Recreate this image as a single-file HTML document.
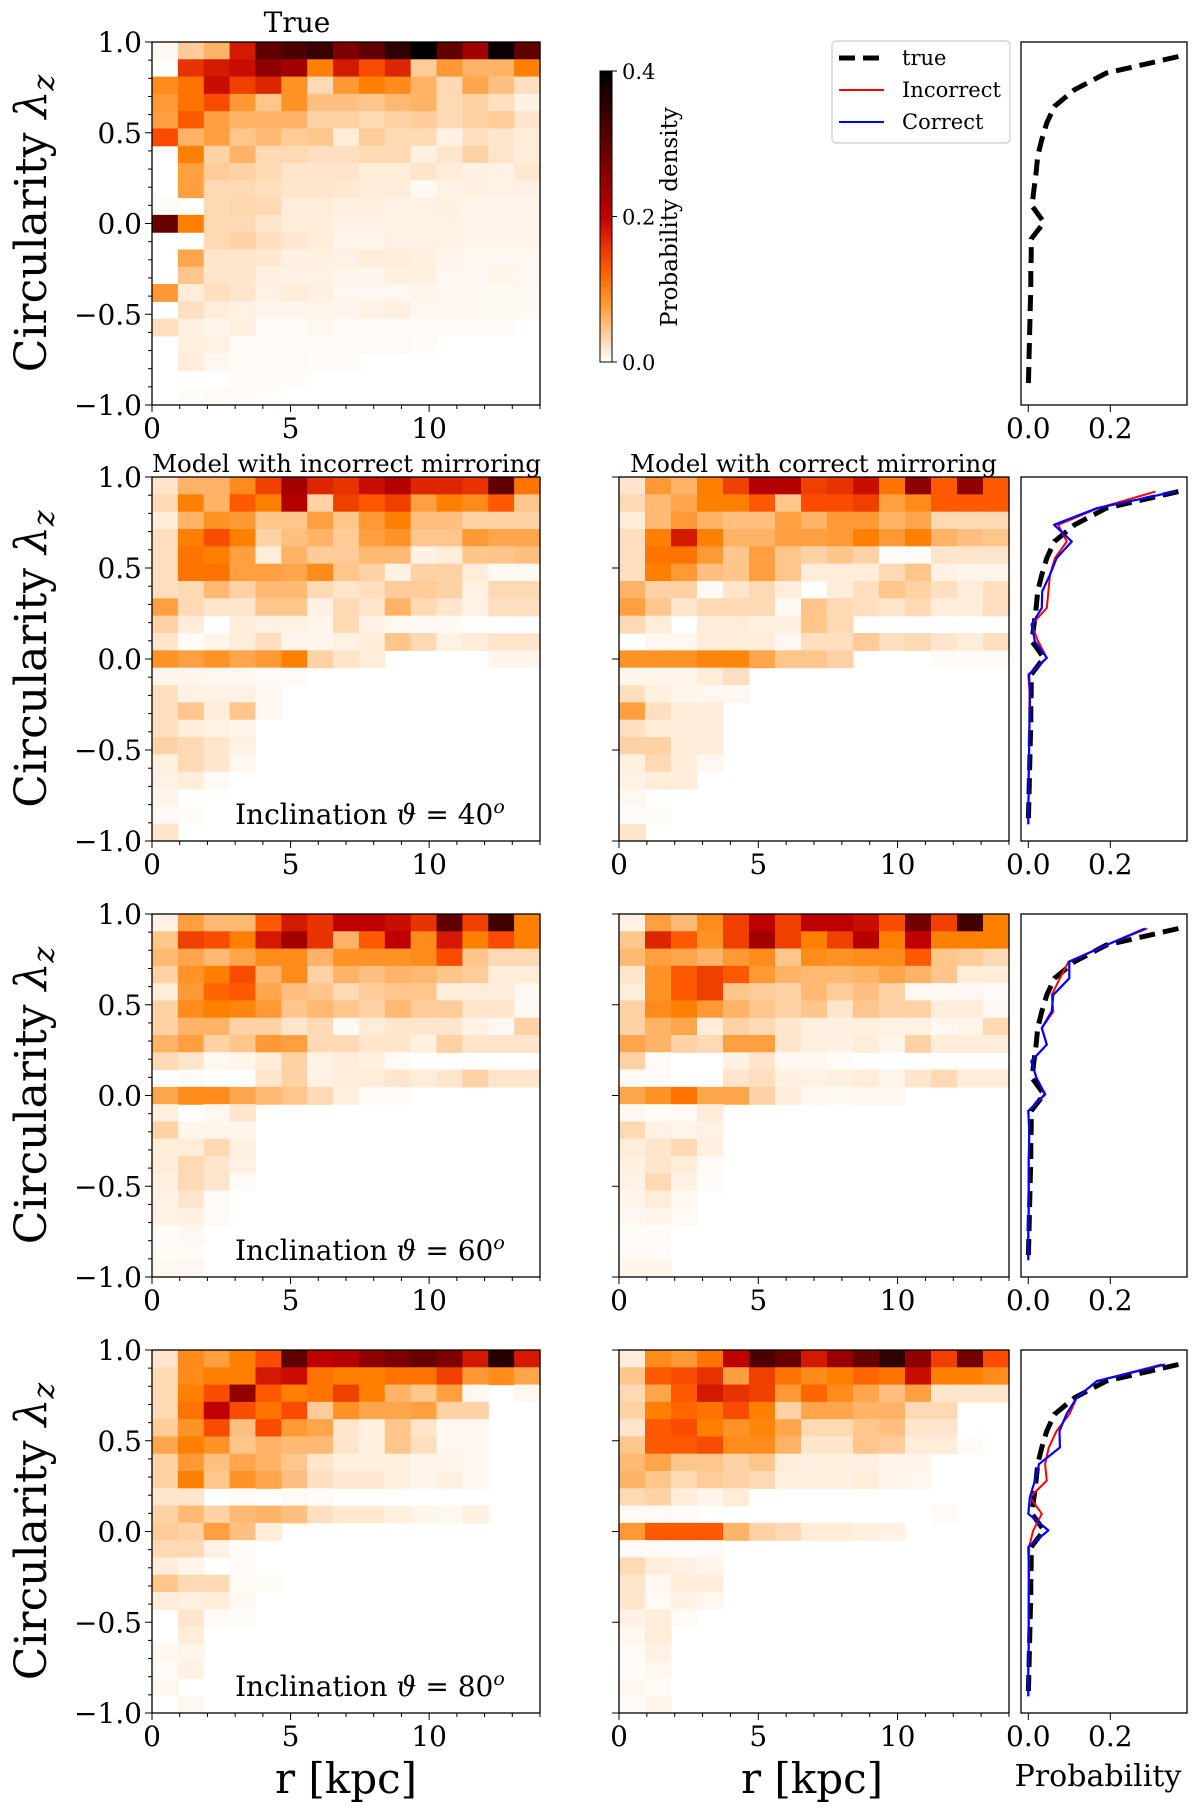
<!DOCTYPE html>
<html><head><meta charset="utf-8">
<style>
html,body{margin:0;padding:0;background:#fff;}
svg{display:block;font-family:"DejaVu Serif","Liberation Serif",serif;}
</style></head>
<body>
<svg id="fig" width="1200" height="1812" viewBox="0 0 1200 1812" xmlns="http://www.w3.org/2000/svg">
<defs>
<linearGradient id="cbgrad" x1="0" y1="1" x2="0" y2="0"></linearGradient>
</defs>
</svg>
<script>
// Heatmap values in units of 0.001 probability density; 21 rows (lambda from +1 down to -1) x 15 radial bins (0..14 kpc)
const xTicks = [0, 5, 10];
const yTicks = [1.0, 0.5, 0.0, -0.5, -1.0];
const yTickLabels = ["1.0", "0.5", "0.0", "\u22120.5", "\u22121.0"];
const cbTicks = [0.0, 0.2, 0.4];
const cbTickLabels = ["0.0", "0.2", "0.4"];
const probTicks = [0.0, 0.2];
const probTickLabels = ["0.0", "0.2"];

const trueGrid = [
[5,40,60,180,300,320,340,270,300,350,400,300,230,390,300],
[0,160,180,190,250,230,100,180,140,170,40,80,60,60,100],
[90,110,190,150,170,85,30,80,100,90,60,30,70,50,25],
[80,110,140,80,45,85,50,50,45,55,60,30,35,25,10],
[75,130,75,60,60,60,35,35,30,35,40,30,35,40,20],
[140,60,75,45,55,40,45,15,40,30,30,10,25,20,15],
[0,100,35,60,30,30,25,25,30,30,12,20,35,20,15],
[0,75,40,35,30,20,20,20,15,15,20,15,10,10,18],
[0,75,30,30,25,20,20,18,15,15,5,10,12,10,10],
[3,0,30,32,30,15,15,12,12,10,10,12,8,8,8],
[290,100,30,30,20,15,15,10,10,10,10,10,8,8,8],
[0,0,30,35,25,18,15,8,8,10,10,10,8,8,8],
[0,70,20,20,18,12,12,10,15,15,12,8,6,6,6],
[0,45,20,20,12,10,10,8,8,12,12,6,6,8,6],
[80,15,25,20,10,15,12,6,6,6,8,6,6,5,5],
[0,25,15,10,8,8,8,8,10,12,6,6,6,5,5],
[25,12,8,12,4,4,6,4,4,4,4,4,4,4,0],
[0,12,10,4,4,4,4,4,4,4,3,0,0,0,0],
[0,15,6,4,4,4,3,3,0,0,0,0,0,0,0],
[0,0,0,3,3,3,0,0,0,0,0,0,0,0,0],
[0,3,4,3,2,0,0,0,0,0,0,0,0,0,0]];

const inc40Grid = [
[20,60,60,90,150,230,170,160,190,210,170,170,160,300,110],
[30,100,60,130,100,210,35,150,130,150,75,100,90,130,45],
[15,60,85,80,45,45,75,45,80,100,50,50,35,35,35],
[25,100,140,100,35,50,60,40,75,85,45,45,80,70,70],
[25,110,100,75,15,60,40,40,55,55,10,15,45,45,50],
[25,110,110,75,75,70,90,45,35,10,35,35,15,5,5],
[25,30,55,35,55,55,30,20,25,40,40,35,10,30,30],
[75,30,20,20,45,45,10,30,20,60,30,20,10,25,25],
[35,15,0,15,10,10,8,30,10,5,5,5,0,0,0],
[20,3,8,15,25,8,8,10,15,45,30,10,15,20,20],
[85,75,85,70,80,100,35,20,15,0,0,0,0,8,8],
[8,8,6,6,4,4,0,0,0,0,0,0,0,0,0],
[25,10,10,10,6,0,0,0,0,0,0,0,0,0,0],
[25,45,15,45,6,0,0,0,0,0,0,0,0,0,0],
[25,15,10,8,0,0,0,0,0,0,0,0,0,0,0],
[35,30,20,10,0,0,0,0,0,0,0,0,0,0,0],
[12,30,20,6,0,0,0,0,0,0,0,0,0,0,0],
[10,15,4,0,0,0,0,0,0,0,0,0,0,0,0],
[8,0,0,0,0,0,0,0,0,0,0,0,0,0,0],
[4,3,0,0,0,0,0,0,0,0,0,0,0,0,0],
[20,0,0,0,0,0,0,0,0,0,0,0,0,0,0]];

const cor40Grid = [
[20,80,60,100,150,210,210,150,160,190,110,250,130,250,130],
[30,55,70,100,100,130,45,140,140,150,75,90,130,130,130],
[15,55,80,60,50,50,75,60,80,80,60,70,30,30,30],
[25,100,180,100,60,60,75,75,80,100,80,100,60,50,45],
[25,110,110,80,45,75,45,35,45,35,3,3,20,20,20],
[25,100,80,50,45,75,45,15,15,15,30,45,10,8,8],
[60,35,35,5,20,30,15,0,15,25,45,35,25,15,25],
[75,45,20,30,30,30,5,45,30,25,20,30,15,15,25],
[30,15,0,15,15,12,12,45,30,0,0,0,0,0,0],
[0,6,6,15,15,15,6,25,25,40,25,30,20,15,25],
[85,85,85,95,95,70,45,45,35,0,0,0,4,4,4],
[8,8,8,15,25,0,0,0,0,0,0,0,0,0,0],
[25,12,8,6,6,0,0,0,0,0,0,0,0,0,0],
[75,25,15,15,0,0,0,0,0,0,0,0,0,0,0],
[25,15,15,15,0,0,0,0,0,0,0,0,0,0,0],
[35,35,15,15,0,0,0,0,0,0,0,0,0,0,0],
[12,30,15,6,0,0,0,0,0,0,0,0,0,0,0],
[10,15,15,0,0,0,0,0,0,0,0,0,0,0,0],
[6,0,0,0,0,0,0,0,0,0,0,0,0,0,0],
[3,3,0,0,0,0,0,0,0,0,0,0,0,0,0],
[20,0,0,0,0,0,0,0,0,0,0,0,0,0,0]];

const inc60Grid = [
[10,75,55,55,130,180,160,200,200,190,160,300,150,330,100],
[45,150,140,100,180,230,160,60,130,200,90,180,100,140,100],
[55,70,55,70,90,90,60,85,85,85,90,140,45,30,30],
[35,85,100,140,60,90,35,60,50,60,55,45,40,15,15],
[15,80,120,130,70,50,45,30,40,45,45,15,15,15,5],
[35,90,100,95,80,45,55,45,35,55,40,40,20,20,5],
[35,60,60,35,35,20,30,5,15,20,20,20,10,5,35],
[60,75,35,45,80,75,30,30,20,20,12,35,20,20,20],
[30,20,5,8,15,35,10,15,12,4,0,0,0,0,0],
[0,4,0,0,20,35,10,15,15,20,15,20,35,20,20],
[70,90,90,70,55,45,30,12,4,4,0,0,0,0,0],
[12,0,6,20,0,0,0,0,0,0,0,0,0,0,0],
[35,8,8,8,0,0,0,0,0,0,0,0,0,0,0],
[15,15,30,12,0,0,0,0,0,0,0,0,0,0,0],
[15,30,20,10,0,0,0,0,0,0,0,0,0,0,0],
[12,30,20,4,0,0,0,0,0,0,0,0,0,0,0],
[10,20,4,0,0,0,0,0,0,0,0,0,0,0,0],
[10,10,4,0,0,0,0,0,0,0,0,0,0,0,0],
[3,6,0,0,0,0,0,0,0,0,0,0,0,0,0],
[3,4,0,0,0,0,0,0,0,0,0,0,0,0,0],
[6,6,0,0,0,0,0,0,0,0,0,0,0,0,0]];

const cor60Grid = [
[10,75,55,90,150,200,150,200,200,190,140,280,150,330,100],
[45,170,130,85,150,230,150,100,150,210,100,200,100,100,100],
[55,75,70,60,80,90,45,90,85,90,90,130,45,40,30],
[20,85,130,150,130,80,60,55,55,60,70,60,45,15,15],
[15,85,130,150,45,40,35,55,40,50,35,6,6,6,4],
[35,90,100,80,60,45,35,45,20,45,35,35,15,15,5],
[35,60,70,15,35,30,20,12,12,12,10,10,6,8,30],
[70,60,35,30,75,75,20,12,10,15,8,35,15,15,15],
[35,4,0,0,10,20,6,6,4,0,0,0,0,0,0],
[4,4,0,0,20,25,12,10,12,15,8,20,30,15,15],
[70,85,110,70,70,35,15,6,5,6,6,0,0,0,0],
[6,4,4,15,0,0,0,0,0,0,0,0,0,0,0],
[30,10,8,10,0,0,0,0,0,0,0,0,0,0,0],
[15,20,30,12,0,0,0,0,0,0,0,0,0,0,0],
[12,20,15,4,0,0,0,0,0,0,0,0,0,0,0],
[10,30,10,3,0,0,0,0,0,0,0,0,0,0,0],
[8,15,6,0,0,0,0,0,0,0,0,0,0,0,0],
[6,8,4,0,0,0,0,0,0,0,0,0,0,0,0],
[3,4,0,0,0,0,0,0,0,0,0,0,0,0,0],
[4,4,0,0,0,0,0,0,0,0,0,0,0,0,0],
[8,8,0,0,0,0,0,0,0,0,0,0,0,0,0]];

const inc80Grid = [
[20,90,75,100,140,300,200,210,250,270,290,270,180,360,180],
[30,90,100,100,180,190,110,100,100,110,110,150,80,90,70],
[30,100,140,250,130,100,110,150,100,60,45,75,6,0,6],
[30,110,200,140,110,140,40,85,70,70,75,35,35,0,0],
[40,85,140,50,140,80,70,20,12,45,20,6,6,0,0],
[70,100,85,45,60,55,55,20,12,45,25,6,6,0,0],
[35,80,50,70,60,45,20,12,12,12,8,8,6,0,0],
[35,100,45,85,70,50,25,18,18,12,8,12,6,0,0],
[20,20,0,4,0,4,3,0,0,0,0,0,0,0,0],
[35,55,35,55,60,50,25,18,18,12,8,6,12,0,0],
[40,35,75,50,15,0,0,0,0,0,0,0,0,0,0],
[30,30,10,3,0,0,0,0,0,0,0,0,0,0,0],
[15,8,0,4,0,0,0,0,0,0,0,0,0,0,0],
[45,30,30,4,3,0,0,0,0,0,0,0,0,0,0],
[15,12,15,6,0,0,0,0,0,0,0,0,0,0,0],
[0,20,4,3,0,0,0,0,0,0,0,0,0,0,0],
[0,15,0,0,0,0,0,0,0,0,0,0,0,0,0],
[6,8,0,0,0,0,0,0,0,0,0,0,0,0,0],
[4,10,0,0,0,0,0,0,0,0,0,0,0,0,0],
[6,0,0,0,0,0,0,0,0,0,0,0,0,0,0],
[0,6,0,0,0,0,0,0,0,0,0,0,0,0,0]];

const cor80Grid = [
[15,90,80,110,200,320,290,180,240,290,350,250,150,280,140],
[45,130,140,160,75,150,110,90,100,120,110,190,100,100,90],
[30,70,130,180,160,150,80,120,90,70,50,75,20,20,20],
[35,100,120,110,140,100,35,70,70,60,60,30,30,0,0],
[20,130,140,100,85,95,70,30,30,45,50,20,20,0,0],
[45,130,130,140,90,90,60,20,20,45,40,15,15,4,0],
[55,70,45,45,35,45,15,12,12,12,8,8,0,0,0],
[60,45,30,40,35,30,12,12,12,15,8,6,0,0,0],
[30,35,15,8,15,0,0,0,0,0,0,0,0,0,0],
[4,4,4,0,0,0,0,0,0,0,0,0,4,0,0],
[80,130,130,130,60,35,30,15,15,12,10,0,0,0,0],
[4,4,4,4,0,0,0,0,0,0,0,0,0,0,0],
[30,15,10,8,0,0,0,0,0,0,0,0,0,0,0],
[20,6,15,15,0,0,0,0,0,0,0,0,0,0,0],
[20,4,10,6,0,0,0,0,0,0,0,0,0,0,0],
[10,15,4,0,0,0,0,0,0,0,0,0,0,0,0],
[6,15,0,0,0,0,0,0,0,0,0,0,0,0,0],
[4,10,0,0,0,0,0,0,0,0,0,0,0,0,0],
[3,6,0,0,0,0,0,0,0,0,0,0,0,0,0],
[6,4,0,0,0,0,0,0,0,0,0,0,0,0,0],
[4,8,0,0,0,0,0,0,0,0,0,0,0,0,0]];

// Marginal probability profiles (21 lambda bins, top to bottom)
const trueProfile = [0.366,0.19,0.113,0.064,0.045,0.033,0.023,0.019,0.014,0.009,0.038,0.007,0.007,0.006,0.006,0.005,0.004,0.003,0.002,0.001,0.0];
const inc40Profile = [0.31,0.17,0.073,0.094,0.065,0.053,0.049,0.045,0.008,0.024,0.045,0.0,0.003,0.003,0.003,0.002,0.002,0.001,0.001,0.0,0.0];
const cor40Profile = [0.358,0.167,0.063,0.106,0.069,0.053,0.034,0.033,0.008,0.016,0.045,0.002,0.004,0.004,0.003,0.002,0.002,0.001,0.001,0.0,0.0];
const inc60Profile = [0.29,0.19,0.098,0.077,0.057,0.061,0.033,0.045,0.007,0.02,0.042,0.0,0.002,0.002,0.001,0.001,0.001,0.001,0.0,0.0,0.0];
const cor60Profile = [0.285,0.19,0.1,0.1,0.061,0.057,0.033,0.045,0.007,0.02,0.04,0.0,0.002,0.002,0.001,0.001,0.001,0.001,0.0,0.0,0.0];
const inc80Profile = [0.325,0.167,0.118,0.1,0.069,0.05,0.041,0.045,0.004,0.033,0.012,0.002,0.002,0.002,0.001,0.001,0.001,0.001,0.0,0.0,0.0];
const cor80Profile = [0.333,0.167,0.118,0.093,0.076,0.077,0.026,0.016,0.004,0.0,0.049,0.0,0.001,0.001,0.001,0.001,0.001,0.001,0.0,0.0,0.0];

const NS = "http://www.w3.org/2000/svg";
const svg = document.getElementById('fig');
function mk(tag, attrs, parent) {
  const e = document.createElementNS(NS, tag);
  for (const k in attrs) e.setAttribute(k, attrs[k]);
  (parent || svg).appendChild(e);
  return e;
}
function txt(s, attrs, parent) { const t = mk('text', attrs, parent); t.textContent = s; return t; }

function heat(v) { // gist_heat_r, vmax 0.4
  let x = 1 - Math.min(Math.max(v / 0.4, 0), 1);
  const r = Math.min(1, 1.5 * x), g = Math.max(0, 2 * x - 1), b = Math.max(0, 4 * x - 3);
  return 'rgb(' + Math.round(r * 255) + ',' + Math.round(g * 255) + ',' + Math.round(b * 255) + ')';
}

const colL = [152, 540], colM = [619, 1009], colR = [1021, 1187];
const rows = [[42, 405], [477, 841], [914, 1277], [1350, 1713]];
const NX = 15, NY = 21, XMAX = 14;

function heatPanel(name, grid, cx, ry, opts) {
  const g = mk('g', {});
  
  
  const xs = v => cx[0] + (v / XMAX) * (cx[1] - cx[0]);
  const ys = v => ry[0] + (1 - v) / 2 * (ry[1] - ry[0]);
  const dx = XMAX / NX, dy = 2 / NY;
  for (let i = 0; i < NY; i++) for (let j = 0; j < NX; j++) {
    const v = grid[i][j] / 1000;
    if (v <= 0) continue;
    const x0 = xs(j * dx), x1 = xs((j + 1) * dx);
    const y0 = ys(1 - i * dy), y1 = ys(1 - (i + 1) * dy);
    const c = mk('rect', {x: x0.toFixed(2), y: y0.toFixed(2), width: (x1 - x0 + 0.6).toFixed(2), height: (y1 - y0 + 0.6).toFixed(2), fill: heat(v)}, g);
    
    
  }
  const fr = mk('rect', {x: cx[0], y: ry[0], width: cx[1] - cx[0], height: ry[1] - ry[0], fill: 'none', stroke: '#000', 'stroke-width': 1.3}, g);
  
  
  // x ticks
  for (let m = 0; m <= XMAX; m++) {
    const x = xs(m);
    const major = xTicks.indexOf(m) >= 0;
    mk('line', {x1: x, x2: x, y1: ry[1], y2: ry[1] + (major ? 7 : 4), stroke: '#000', 'stroke-width': 1}, g);
  }
  for (let k = 0; k < xTicks.length; k++) {
    const t = txt(String(xTicks[k]), {x: xs(xTicks[k]), y: ry[1] + 33, 'font-size': 28, 'text-anchor': 'middle'}, g);
    
    
  }
  // y ticks
  for (let m = -10; m <= 10; m++) {
    const y = ys(m / 10);
    const major = m % 5 === 0;
    if (!opts.yLabels && !major) continue;
    mk('line', {x1: cx[0], x2: cx[0] - (major ? 7 : 4), y1: y, y2: y, stroke: '#000', 'stroke-width': 1}, g);
  }
  if (opts.yLabels) {
    for (let k = 0; k < yTicks.length; k++) {
      const t = txt(yTickLabels[k], {x: cx[0] - 10, y: ys(yTicks[k]) + 10, 'font-size': 28, 'text-anchor': 'end'}, g);
      
      
    }
  }
  return g;
}

function profilePanel(name, ry, series) {
  const g = mk('g', {});
  
  
  const x0 = 1028.3, k = 410;
  const xs = v => x0 + v * k;
  const H = ry[1] - ry[0];
  const ys = i => ry[0] + H * (0.04 + i * 0.0457);
  const fr = mk('rect', {x: colR[0], y: ry[0], width: colR[1] - colR[0], height: H, fill: 'none', stroke: '#000', 'stroke-width': 1.3}, g);
  
  
  for (let t = 0; t < probTicks.length; t++) {
    const x = xs(probTicks[t]);
    mk('line', {x1: x, x2: x, y1: ry[1], y2: ry[1] + 7, stroke: '#000', 'stroke-width': 1}, g);
    const l = txt(probTickLabels[t], {x: x, y: ry[1] + 33, 'font-size': 28, 'text-anchor': 'middle'}, g);
    
    
  }
  for (const s of series) {
    const pts = s.data.map((v, i) => xs(v).toFixed(1) + ',' + ys(i).toFixed(1)).join(' ');
    const attrs = {points: pts, fill: 'none', stroke: s.color, 'stroke-width': s.w, 'stroke-linejoin': 'round'};
    if (s.dash) attrs['stroke-dasharray'] = s.dash;
    const p = mk('polyline', attrs, g);
    
    
  }
  return g;
}

// Row 1
heatPanel('true-heatmap', trueGrid, colL, rows[0], {yLabels: true});
profilePanel('true-profile-panel', rows[0], [{name: 'true-profile-line', data: trueProfile, color: '#000', w: 5, dash: '16,8'}]);
const tTitle = txt('True', {x: 297, y: 32, 'font-size': 28, 'text-anchor': 'middle'});



// colorbar
const grad = document.getElementById('cbgrad');
for (let s = 0; s <= 10; s++) mk('stop', {offset: (s / 10), 'stop-color': heat(0.4 * s / 10)}, grad);
const cb = mk('rect', {x: 600, y: 71, width: 12, height: 291, fill: 'url(#cbgrad)', stroke: '#000', 'stroke-width': 1});


for (let k = 0; k < cbTicks.length; k++) {
  const y = 362 - cbTicks[k] / 0.4 * 291;
  mk('line', {x1: 612, x2: 617, y1: y, y2: y, stroke: '#000', 'stroke-width': 1});
  const l = txt(cbTickLabels[k], {x: 622, y: y + 8, 'font-size': 21});
  
  
}
const cbl = txt('Probability density', {x: 0, y: 0, 'font-size': 23, 'text-anchor': 'middle', transform: 'translate(677,217) rotate(-90)'});



// legend
const lg = mk('g', {});


mk('rect', {x: 832, y: 41, width: 178, height: 102, rx: 4, fill: '#fff', stroke: '#ccc', 'stroke-width': 1.2}, lg);
const legendItems = [['true', '#000', 5, '16,8'], ['Incorrect', '#f00', 2, null], ['Correct', '#00f', 2, null]];
legendItems.forEach((it, i) => {
  const y = 58 + i * 32;
  const a = {x1: 839, x2: 884, y1: y, y2: y, stroke: it[1], 'stroke-width': it[2]};
  if (it[3]) a['stroke-dasharray'] = it[3];
  const ln = mk('line', a, lg);
  
  
  const t = txt(it[0], {x: 902, y: y + 7, 'font-size': 21}, lg);
  
  
});

// Rows 2-4
const rowDefs = [
  {inc: inc40Grid, cor: cor40Grid, pi: inc40Profile, pc: cor40Profile, ang: '40'},
  {inc: inc60Grid, cor: cor60Grid, pi: inc60Profile, pc: cor60Profile, ang: '60'},
  {inc: inc80Grid, cor: cor80Grid, pi: inc80Profile, pc: cor80Profile, ang: '80'}];
rowDefs.forEach((d, r) => {
  const ry = rows[r + 1];
  heatPanel('incorrect-heatmap-' + d.ang, d.inc, colL, ry, {yLabels: true});
  heatPanel('correct-heatmap-' + d.ang, d.cor, colM, ry, {yLabels: false});
  profilePanel('profile-panel-' + d.ang, ry, [
    {name: 'true-profile-line', data: trueProfile, color: '#000', w: 5, dash: '16,8'},
    {name: 'incorrect-profile-line', data: d.pi, color: '#f00', w: 2},
    {name: 'correct-profile-line', data: d.pc, color: '#00f', w: 2.2}]);
  const it = txt('', {x: 235, y: ry[1] - 17, 'font-size': 28});
  
  
  const t1 = mk('tspan', {}, it); t1.textContent = 'Inclination ';
  const t2 = mk('tspan', {'font-style': 'italic'}, it); t2.textContent = '\u03D1';
  const t3 = mk('tspan', {}, it); t3.textContent = ' = ' + d.ang;
  const t4 = mk('tspan', {'font-size': 19, dy: -11, 'font-style': 'italic'}, it); t4.textContent = 'o';
});
const h1 = txt('Model with incorrect mirroring', {x: 152, y: 472, 'font-size': 24, textLength: 389, lengthAdjust: 'spacingAndGlyphs'});


const h2 = txt('Model with correct mirroring', {x: 630, y: 472, 'font-size': 24, textLength: 367, lengthAdjust: 'spacingAndGlyphs'});



// y axis titles
rows.forEach((ry, r) => {
  const yc = (ry[0] + ry[1]) / 2;
  const t = txt('', {x: 0, y: 0, 'font-size': 44, 'text-anchor': 'middle', transform: 'translate(46,' + yc + ') rotate(-90)'});
  
  
  const a = mk('tspan', {}, t); a.textContent = 'Circularity ';
  const b = mk('tspan', {'font-style': 'italic'}, t); b.textContent = '\u03BB';
  const c = mk('tspan', {'font-size': 30, dy: 8, 'font-style': 'italic'}, t); c.textContent = 'z';
});
// x axis titles
const xa = txt('r [kpc]', {x: 346, y: 1793, 'font-size': 42, 'text-anchor': 'middle'});


const xb = txt('r [kpc]', {x: 812, y: 1793, 'font-size': 42, 'text-anchor': 'middle'});


const xc = txt('Probability', {x: 1098, y: 1786, 'font-size': 30, 'text-anchor': 'middle'});


</script>
</body></html>
